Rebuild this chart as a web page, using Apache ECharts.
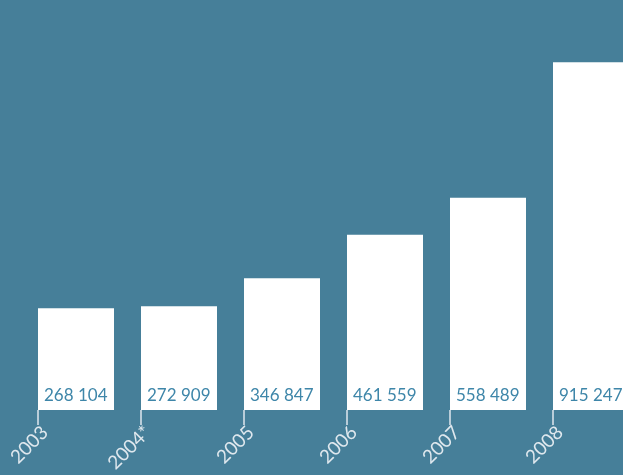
<!DOCTYPE html>
<html>
<head>
<meta charset="utf-8">
<style>
  html, body { margin: 0; padding: 0; background: #467f99; overflow: hidden; }
  /* drawing surface runs past the right edge so the last bar is cut off */
  #chart { width: 700px; height: 475px; }
</style>
<script src="https://cdn.jsdelivr.net/npm/echarts@6/dist/echarts.min.js"></script>
</head>
<body>
<div id="chart"></div>
<script>
// Yearly totals
const years = ['2003', '2004*', '2005', '2006', '2007', '2008'];
const totals = [268104, 272909, 346847, 461559, 558489, 915247];

// "268 104" style thousands grouping
function groupDigits(n) {
  return String(n).replace(/\B(?=(\d{3})+(?!\d))/g, ' ');
}

const FONT = 'Lato, "Open Sans", sans-serif';
const chart = echarts.init(document.getElementById('chart'), null, { renderer: 'canvas' });

chart.setOption({
  backgroundColor: '#467f99',
  animation: false,
  textStyle: { fontFamily: FONT },
  grid: [
    // bars
    { left: 24.5, width: 618, top: 13, bottom: 65 },
    // ticks at each bar's left edge
    { left: 38, width: 618, top: 13, bottom: 65 },
    // rotated year labels
    { left: 45, width: 618, top: 13, bottom: 65 }
  ],
  xAxis: [
    {
      gridIndex: 0,
      type: 'category',
      data: years,
      boundaryGap: true,
      show: false
    },
    {
      gridIndex: 1,
      type: 'value',
      min: 0,
      max: 6,
      interval: 1,
      axisLine: { show: false },
      splitLine: { show: false },
      axisTick: {
        show: true,
        length: 15,
        lineStyle: { color: '#dfe8ee', width: 1.5 }
      },
      axisLabel: { show: false }
    },
    {
      gridIndex: 2,
      type: 'value',
      min: 0,
      max: 6,
      interval: 1,
      axisLine: { show: false },
      splitLine: { show: false },
      axisTick: { show: false },
      axisLabel: {
        rotate: 45,
        margin: 26,
        color: '#dfe8ee',
        fontSize: 19,
        fontFamily: FONT,
        formatter: v => (years[v] !== undefined ? years[v] : '')
      }
    }
  ],
  yAxis: [
    { gridIndex: 0, type: 'value', min: 0, max: 1045000, show: false },
    { gridIndex: 1, type: 'value', min: 0, max: 1, show: false },
    { gridIndex: 2, type: 'value', min: 0, max: 1, show: false }
  ],
  series: [
    {
      type: 'bar',
      xAxisIndex: 0,
      yAxisIndex: 0,
      data: totals,
      barWidth: 76,
      itemStyle: { color: '#ffffff' },
      label: {
        show: true,
        position: 'insideBottomLeft',
        distance: 6,
        color: '#3e86a9',
        fontSize: 17,
        fontFamily: FONT,
        formatter: p => groupDigits(p.value)
      }
    }
  ]
});
</script>
</body>
</html>
